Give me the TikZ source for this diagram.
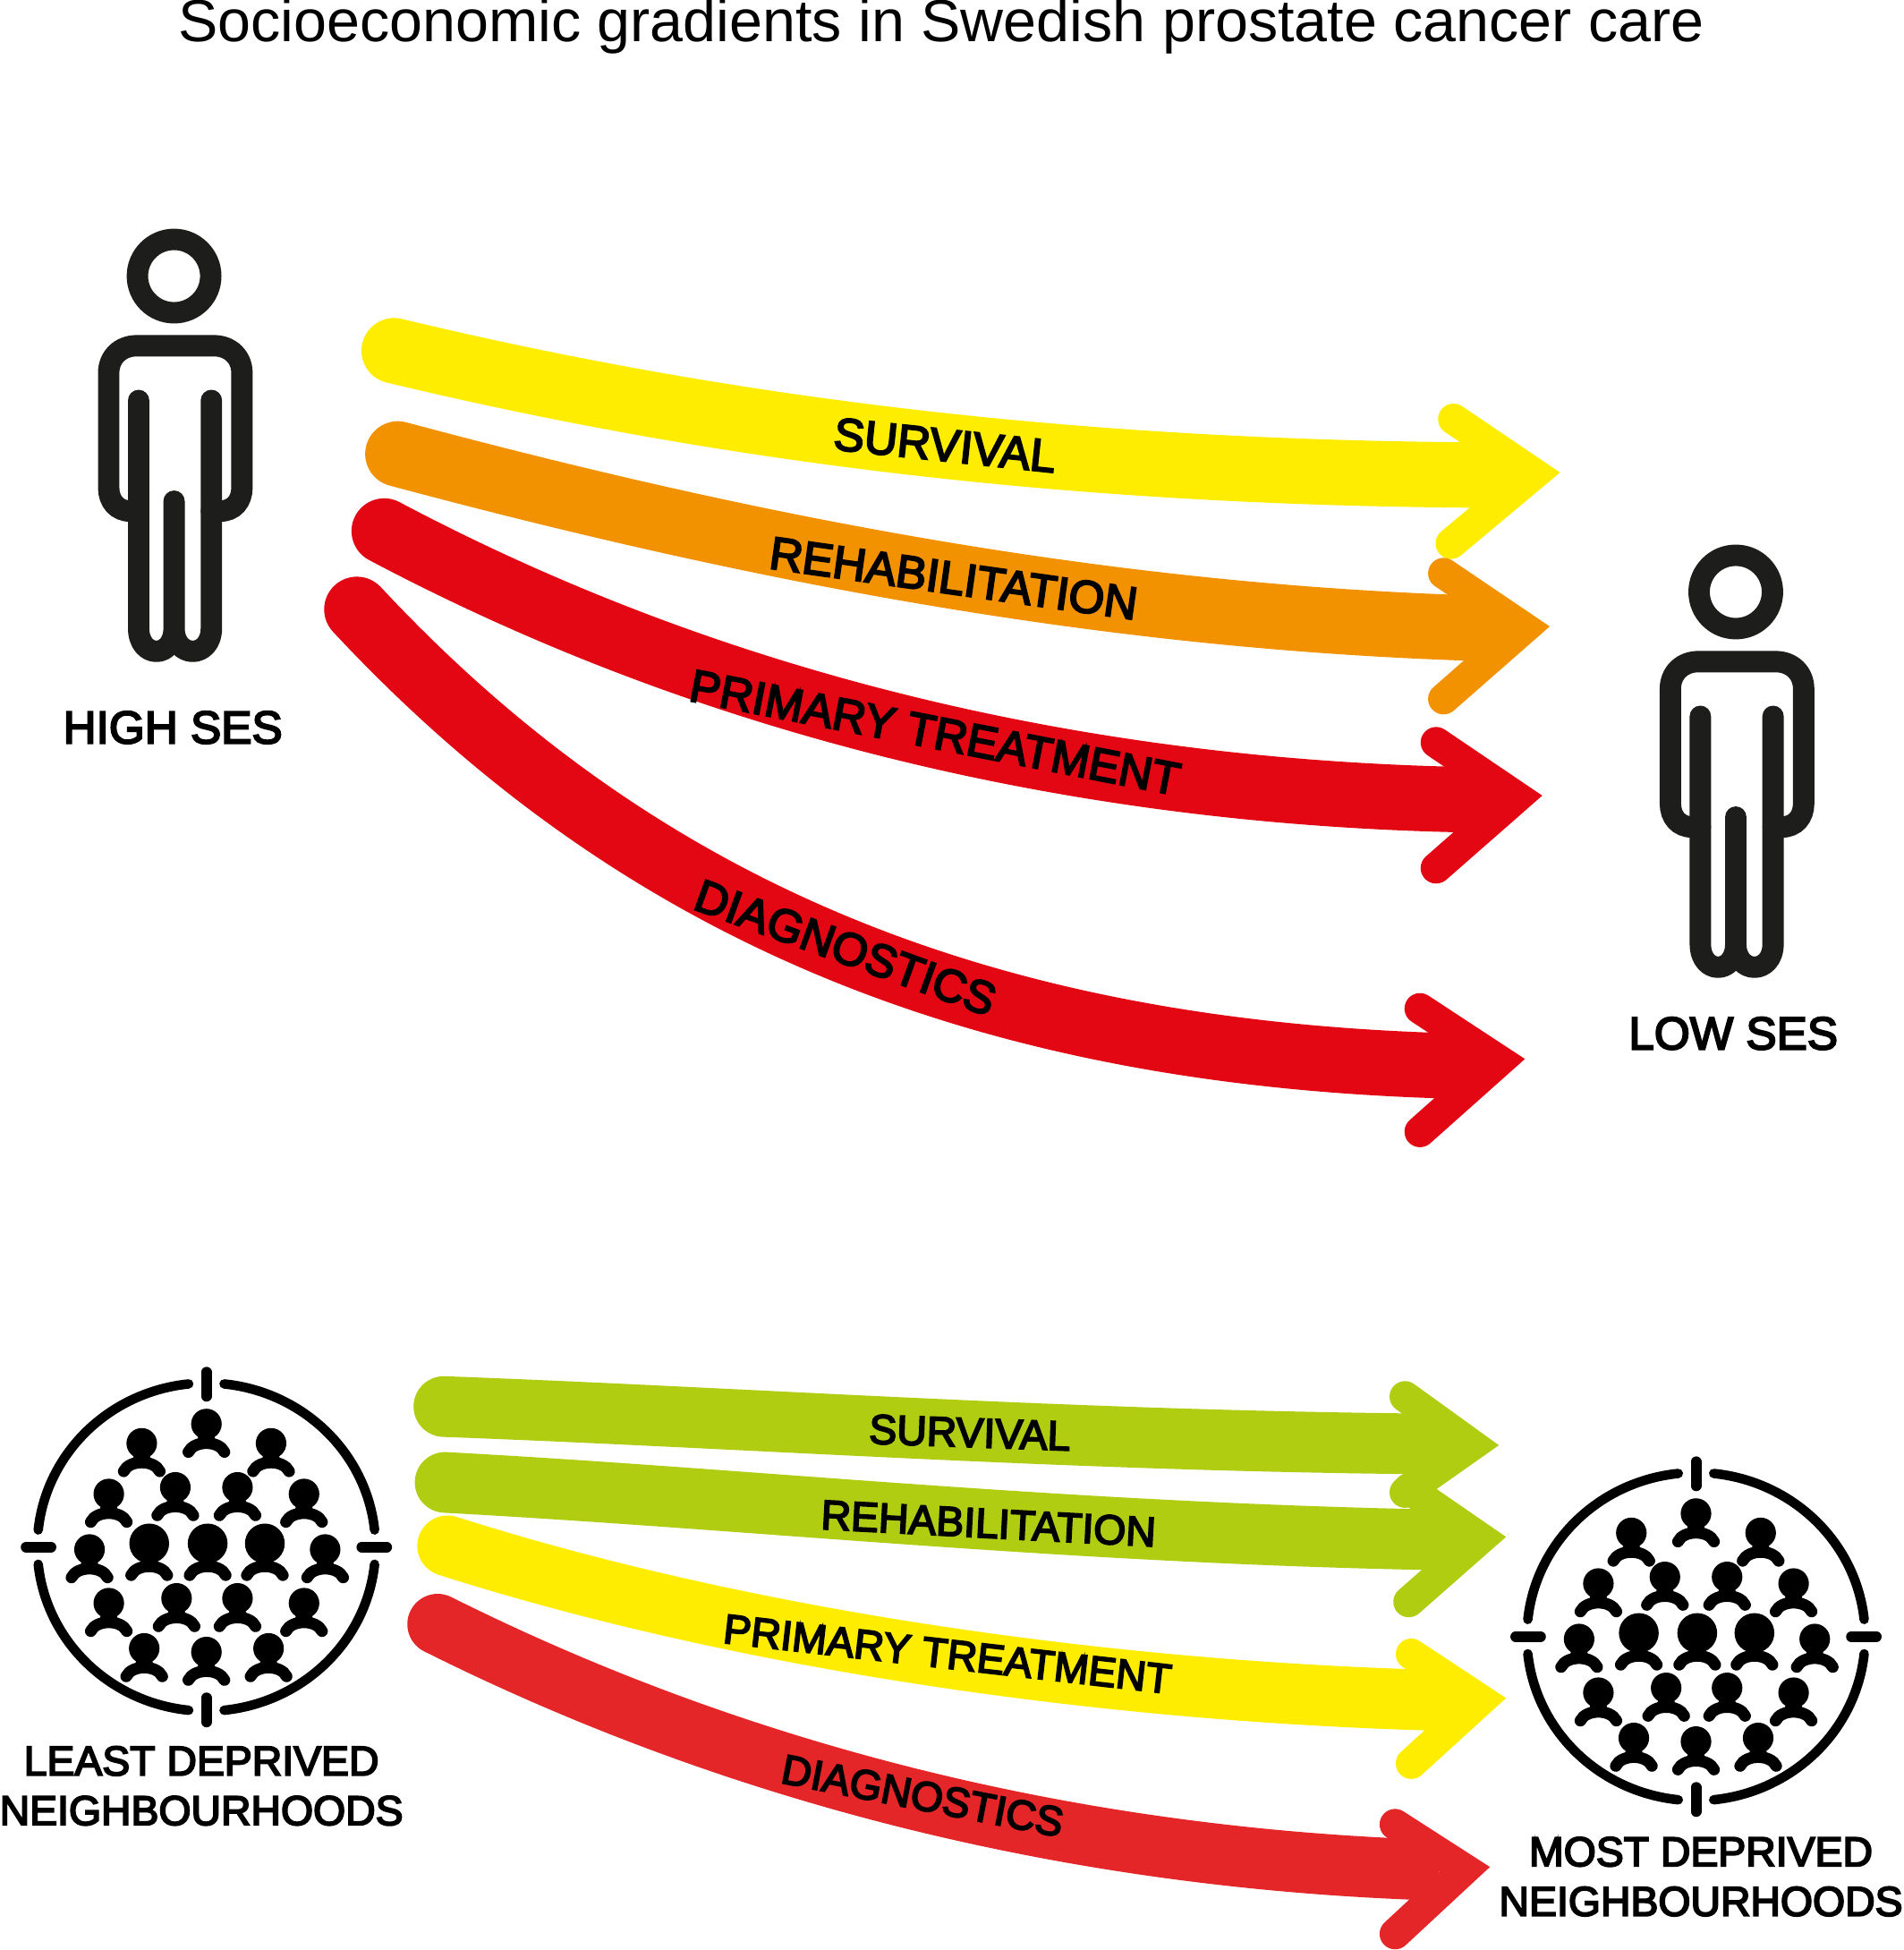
\documentclass[tikz,border=0pt]{standalone}
\usepackage{fontspec}
\setmainfont{Liberation Sans}
\newfontfamily\heavyfont[FakeBold=4]{Liberation Sans}
\definecolor{Y}{RGB}{255, 237, 0}
\definecolor{O}{RGB}{243, 146, 0}
\definecolor{R}{RGB}{227, 6, 19}
\definecolor{G}{RGB}{177, 205, 18}
\definecolor{L}{RGB}{229, 38, 41}
\definecolor{K}{RGB}{29, 29, 27}
\tikzset{
	shaft/.style={line width=20.8pt,line cap=round},
	lowshaft/.style={line width=19.3pt,line cap=round},
	barbs/.style={line width=9.85pt,line cap=round,line join=miter,miter limit=20},
	toplabel/.style={font=\heavyfont\fontsize{14.6}{17}\selectfont},
	lowlabel/.style={font=\heavyfont\fontsize{13.2}{15.8}\selectfont,align=center},
	figure/.pic={
		\draw[K,line width=6.8pt] (0,0) circle (29.5);
		\draw[K,line width=6.8pt,line cap=round,line join=round]
			(-28.5,100) -- (-28.5,283) .. controls (-28.5,308) and (0,308) .. (0,283) -- (0,181)
			(0,283) .. controls (0,308) and (30,308) .. (30,283) -- (30,100);
		\draw[K,line width=6.8pt,line cap=round]
			(-28.5,189) -- (-35,189) .. controls (-46,189) and (-52.6,181) .. (-52.6,170) -- (-52.6,78)
			.. controls (-52.6,65) and (-43,56) .. (-30,56) -- (32,56)
			.. controls (45,56) and (54.6,65) .. (54.6,78) -- (54.6,170)
			.. controls (54.6,181) and (48,189) .. (37,189) -- (30,189);
	},
	citizen/.pic={
		\fill (0,0) circle (12.3);
		\fill (-6,8) -- (6,8) -- (8,16) -- (-8,16) -- cycle;
		\draw[line width=3.7pt,line cap=round] (-14.5,22.5) .. controls (-10,13) and (10,13) .. (14.5,22.5);
	},
	bigcitizen/.pic={
		\fill (0,0) circle (16);
		\fill (-6,12) -- (6,12) -- (8,20) -- (-8,20) -- cycle;
		\draw[line width=3.7pt,line cap=round] (-14.5,25.5) .. controls (-10,16) and (10,16) .. (14.5,25.5);
	},
	crowd/.pic={
		% four quarter arcs and four ticks
		\foreach \a in {0,90,180,270} {
			\draw[line width=3pt,line cap=round] (\a+6:136) arc[start angle=\a+6,end angle=\a+84,radius=136];
			\draw[line width=3.4pt,line cap=round] (\a:125) -- (\a:145);
		}
		\foreach \x/\y in {0/-102,-52/-86,52/-86,-78.5/-44,-25/-49.5,25/-49.5,78.5/-44,-94/2,95.5/2,
			-78.5/46.5,-24/42.5,25/42.5,78.5/46.5,-50/84,0/87,50/84}
			\pic at (\x,\y) {citizen};
		\foreach \x in {-46,1,47}
			\pic at (\x,-3) {bigcitizen};
	},
}
\begin{document}
\begin{tikzpicture}[x=0.139mm,y=-0.139mm]
	\useasboundingbox (0,0) rectangle (1531,1568);

	\node[font=\fontsize{18.9}{22}\selectfont] (title) at (757,21) {Socioeconomic gradients in Swedish prostate cancer care};

	% Individuals
	\pic at (140,222) {figure};
	\node[toplabel] (highses) at (139,585) {HIGH SES};
	\pic at (1396,476) {figure};
	\node[toplabel] (lowses) at (1394,831) {LOW SES};

	% Upper arrows
	\draw[shaft,Y] (317,282) .. controls (600,350) and (880,380) .. (1190,382);
	\draw[barbs,Y] (1169,337) -- (1234,381) -- (1167,437);
	\draw[shaft,O] (320,365) .. controls (600,440) and (880,495) .. (1182,505);
	\draw[barbs,O] (1161,461) -- (1226,505) -- (1161,562);
	\draw[shaft,R] (309,427) .. controls (560,560) and (850,636) .. (1176,643);
	\draw[barbs,R] (1155,597) -- (1220,641) -- (1155,698);
	\draw[shaft,R] (287,490) .. controls (520,740) and (800,846) .. (1162,857);
	\draw[barbs,R] (1142,811) -- (1206,853) -- (1142,910);

	\node[toplabel,rotate=-6] (survivaltop) at (760,358) {SURVIVAL};
	\node[toplabel,rotate=-8] (rehabtop) at (767,465) {REHABILITATION};
	\node[toplabel,rotate=-11] (primarytop) at (752,589) {PRIMARY TREATMENT};
	\node[toplabel,rotate=-20] (diagnosticstop) at (680,762) {DIAGNOSTICS};

	% Neighbourhoods
	\pic[yscale=0.97] at (166,1244) {crowd};
	\node[lowlabel] (least) at (162,1436) {LEAST DEPRIVED\\NEIGHBOURHOODS};
	\pic[yscale=0.97] at (1364,1316) {crowd};
	\node[lowlabel] (most) at (1368,1509) {MOST DEPRIVED\\NEIGHBOURHOODS};

	% Lower arrows
	\draw[lowshaft,G] (357,1131) .. controls (600,1140) and (850,1158) .. (1141,1161);
	\draw[barbs,G] (1130,1123) -- (1184,1162) -- (1130,1200);
	\draw[lowshaft,G] (358,1192) .. controls (600,1205) and (850,1232) .. (1147,1238);
	\draw[barbs,G] (1133,1197) -- (1191,1237) -- (1133,1288);
	\draw[lowshaft,Y] (360,1243) .. controls (570,1310) and (850,1358) .. (1147,1367);
	\draw[barbs,Y] (1135,1330) -- (1191,1367) -- (1135,1418);
	\draw[lowshaft,L] (352,1306) .. controls (560,1410) and (820,1490) .. (1133,1503);
	\draw[barbs,L] (1122,1467) -- (1178,1503) -- (1122,1555);

	\node[lowlabel,rotate=-2] (survivallow) at (780,1152) {SURVIVAL};
	\node[lowlabel,rotate=-3] (rehablow) at (795,1225) {REHABILITATION};
	\node[lowlabel,rotate=-6.5] (primarylow) at (762,1330) {PRIMARY TREATMENT};
	\node[lowlabel,rotate=-11] (diagnosticslow) at (742,1444) {DIAGNOSTICS};
\end{tikzpicture}
\end{document}
